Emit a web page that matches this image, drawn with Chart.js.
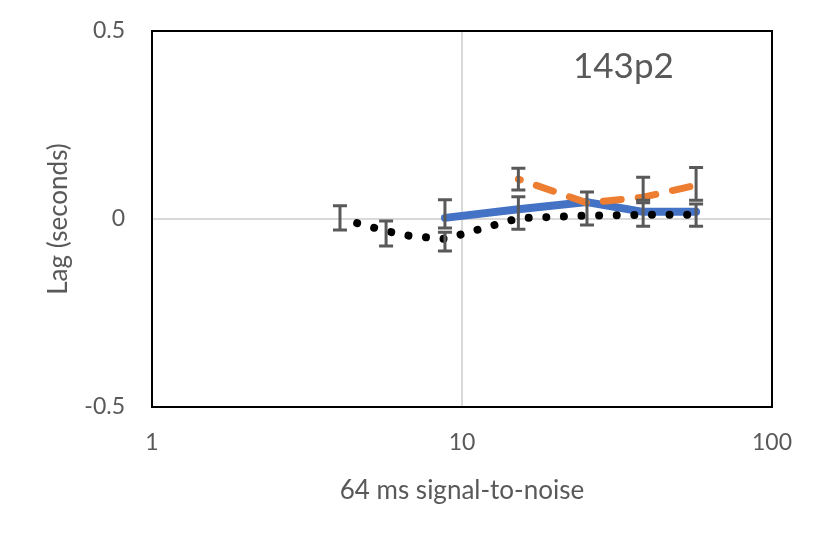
<!DOCTYPE html>
<html>
<head>
<meta charset="utf-8">
<script src="https://cdn.jsdelivr.net/npm/chart.js@4/dist/chart.umd.min.js"></script>
<style>
  html, body { margin: 0; padding: 0; background: #fff; }
  #wrap { width: 830px; height: 539px; }
</style>
</head>
<body>
<div id="wrap"><canvas id="c" width="830" height="539"></canvas></div>
<script>
// ---- data ----
const chartLabel = "143p2";
const xTickValues = [1, 10, 100];
const yTickValues = [-0.5, 0, 0.5];

const blueX = [8.81, 15.2, 25.3, 38.4, 56.9];
const blueY = [0.003, 0.026, 0.045, 0.019, 0.019];

const orangeX = [15.2, 25.3, 38.4, 56.9];
const orangeY = [0.106, 0.043, 0.058, 0.090];

const blackX = [4.59, 5.69, 6.79, 8.81, 15.2, 25.3, 38.4, 56.9];
const blackY = [-0.011, -0.032, -0.045, -0.053, 0.002, 0.009, 0.011, 0.011];

// error bars: x, low, high
const errX    = [4.04, 5.69, 8.81, 8.81, 15.2, 15.2, 25.3, 38.4, 38.4, 56.9, 56.9];
const errLow  = [-0.029, -0.072, -0.024, -0.085, 0.077, -0.027, -0.016, 0.050, -0.019, 0.050, -0.019];
const errHigh = [0.035, -0.005, 0.051, -0.035, 0.135, 0.059, 0.072, 0.111, 0.043, 0.137, 0.040];

const pts = (xs, ys) => xs.map((x, i) => ({x: x, y: ys[i]}));

const FONT = "Lato, 'Open Sans', sans-serif";
const GREY = '#595959';

const decor = {
  id: 'decor',
  beforeDatasetsDraw(chart) {
    const {ctx, chartArea: a} = chart;
    ctx.save();
    ctx.strokeStyle = '#000';
    ctx.lineWidth = 2;
    ctx.strokeRect(a.left, a.top, a.right - a.left, a.bottom - a.top);
    ctx.restore();
  },
  afterDatasetsDraw(chart) {
    const {ctx, scales: {x, y}, chartArea: a} = chart;
    ctx.save();
    ctx.strokeStyle = GREY;
    ctx.lineWidth = 3;
    ctx.lineCap = 'butt';
    const cap = 7;
    errX.forEach((xv, i) => {
      const px = x.getPixelForValue(xv);
      const yl = y.getPixelForValue(errLow[i]);
      const yh = y.getPixelForValue(errHigh[i]);
      ctx.beginPath();
      ctx.moveTo(px, yl); ctx.lineTo(px, yh);
      ctx.moveTo(px - cap, yl); ctx.lineTo(px + cap, yl);
      ctx.moveTo(px - cap, yh); ctx.lineTo(px + cap, yh);
      ctx.stroke();
    });
    ctx.fillStyle = GREY;
    ctx.font = "35px " + FONT;
    ctx.textAlign = 'left';
    ctx.textBaseline = 'alphabetic';
    ctx.fillText(chartLabel, a.left + 421, a.top + 47);
    ctx.restore();
  }
};

new Chart(document.getElementById('c'), {
  type: 'line',
  data: {
    datasets: [
      {
        label: 'blue', data: pts(blueX, blueY),
        borderColor: '#4472C4', borderWidth: 8, pointRadius: 0,
        borderCapStyle: 'round', borderJoinStyle: 'round', tension: 0, order: 2
      },
      {
        label: 'orange', data: pts(orangeX, orangeY),
        borderColor: '#ED7D31', borderWidth: 7, pointRadius: 0,
        borderDash: [18, 17], borderDashOffset: 16,
        borderCapStyle: 'round', borderJoinStyle: 'round', tension: 0, order: 1
      },
      {
        label: 'black', data: pts(blackX, blackY),
        borderColor: '#000', borderWidth: 8, pointRadius: 0,
        borderDash: [0.01, 17.6],
        borderCapStyle: 'round', borderJoinStyle: 'round', tension: 0, order: 0
      }
    ]
  },
  options: {
    responsive: false,
    animation: false,
    events: [],
    layout: { padding: { left: 0, right: 58, top: 31, bottom: 0 } },
    plugins: { legend: { display: false }, tooltip: { enabled: false } },
    scales: {
      x: {
        type: 'logarithmic', min: 1, max: 100,
        afterBuildTicks: s => { s.ticks = xTickValues.map(v => ({value: v})); },
        afterFit: s => { s.height = 132; s.paddingLeft = 0; s.paddingRight = 0; },
        border: { display: false },
        grid: {
          drawTicks: false, lineWidth: 2,
          color: c => (c.tick && c.tick.value === 10) ? '#d9d9d9' : 'rgba(0,0,0,0)'
        },
        ticks: {
          color: GREY, font: { family: FONT, size: 23 }, padding: 22,
          maxRotation: 0, autoSkip: false,
          callback: v => String(v)
        },
        title: {
          display: true, text: '64 ms signal-to-noise', color: GREY,
          font: { family: FONT, size: 26 }, padding: { top: 0, bottom: 33 }
        }
      },
      y: {
        min: -0.5, max: 0.5,
        afterBuildTicks: s => { s.ticks = yTickValues.map(v => ({value: v})); },
        afterFit: s => { s.width = 152; s.paddingTop = 0; s.paddingBottom = 0; },
        border: { display: false },
        grid: {
          drawTicks: false, lineWidth: 2,
          color: c => (c.tick && c.tick.value === 0) ? '#d9d9d9' : 'rgba(0,0,0,0)'
        },
        ticks: {
          color: GREY, font: { family: FONT, size: 23 }, padding: 27,
          callback: v => String(v)
        },
        title: {
          display: true, text: 'Lag (seconds)', color: GREY,
          font: { family: FONT, size: 26 }, padding: { top: 43, bottom: 0 }
        }
      }
    }
  },
  plugins: [decor]
});
</script>
</body>
</html>
